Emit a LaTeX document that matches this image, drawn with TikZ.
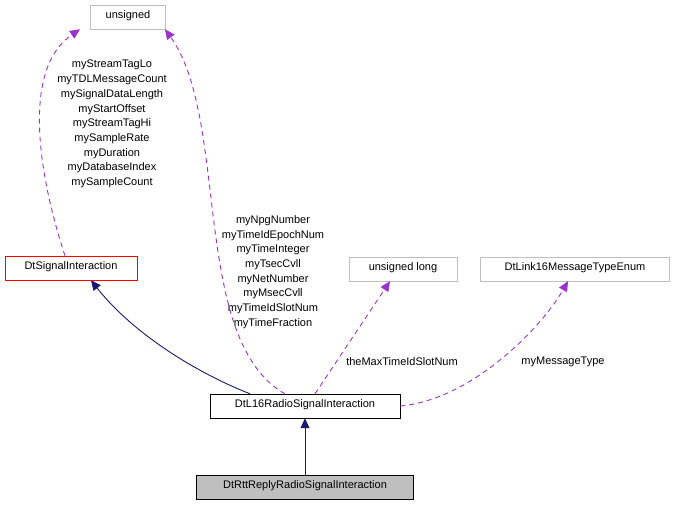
\documentclass[tikz,border=0pt]{standalone}
\usepackage{fontspec}
\setmainfont{Liberation Sans}
\usetikzlibrary{arrows.meta}
\definecolor{color_edge}{HTML}{9a32cd}
\definecolor{color_inherit}{HTML}{191970}
\definecolor{color_ext}{HTML}{bfbfbf}

\begin{document}
\begin{tikzpicture}[x=1pt, y=-1pt, every node/.style={font=\fontsize{11}{13}\selectfont}, align=center]
  \tikzset{ % Specifications for style of nodes:
      base/.style = {rectangle, draw=black, minimum height=24pt, inner xsep=4pt, text height=7pt, text depth=3.5pt, text centered},
      ext/.style = {base, draw=color_ext},
      red/.style = {base, draw=red},
      current/.style = {base, fill=color_ext},
      usage/.style = {draw=color_edge, line width=0.9pt, dash pattern=on 5pt off 4pt, -{Triangle[length=10pt,width=9pt]}},
      inherit/.style = {draw=color_inherit, line width=0.9pt, -{Triangle[length=10pt,width=9pt]}},
      lbl/.style = {inner sep=0pt, font=\fontsize{11}{14.7}\selectfont},
  }
  \useasboundingbox (0,0) rectangle (676,504);
  \node (unsigned) [ext, minimum width=75pt] at (128,17) {unsigned};
  \node (signal) [red, minimum width=132pt] at (71,268) {DtSignalInteraction};
  \node (ulong) [ext, minimum width=108pt] at (403,269) {unsigned long};
  \node (msgtype) [ext, minimum width=189pt] at (575,269) {DtLink16MessageTypeEnum};
  \node (radio) [base, minimum width=190pt] at (305,406) {DtL16RadioSignalInteraction};
  \node (reply) [current, minimum width=217pt] at (305,487) {DtRttReplyRadioSignalInteraction};

  \draw[usage] ([xshift=-6pt]signal.north) .. controls (40,180) and (20,70) .. ([xshift=-48pt]unsigned.south);
  \draw[usage] ([xshift=-20pt]radio.north) .. controls (190,340) and (230,120) .. ([xshift=37pt]unsigned.south);
  \draw[usage] ([xshift=10pt]radio.north) -- ([xshift=-13pt]ulong.south);
  \draw[usage] (radio.east) .. controls (470,400) and (540,330) .. ([xshift=-7pt]msgtype.south);
  \draw[inherit] ([xshift=-55pt]radio.north) .. controls (190,370) and (130,330) .. ([xshift=20pt]signal.south);
  \draw[inherit] (reply.north) -- (radio.south);

  \node (lblsignal) [lbl] at (112,124) {myStreamTagLo\\myTDLMessageCount\\mySignalDataLength\\myStartOffset\\myStreamTagHi\\mySampleRate\\myDuration\\myDatabaseIndex\\mySampleCount};
  \node (lblradio) [lbl] at (273,272) {myNpgNumber\\myTimeIdEpochNum\\myTimeInteger\\myTsecCvll\\myNetNumber\\myMsecCvll\\myTimeIdSlotNum\\myTimeFraction};
  \node (lblulong) [lbl, fill=white] at (402,362) {theMaxTimeIdSlotNum};
  \node (lblmsg) [lbl, fill=white] at (563,362) {myMessageType};
\end{tikzpicture}
\end{document}
